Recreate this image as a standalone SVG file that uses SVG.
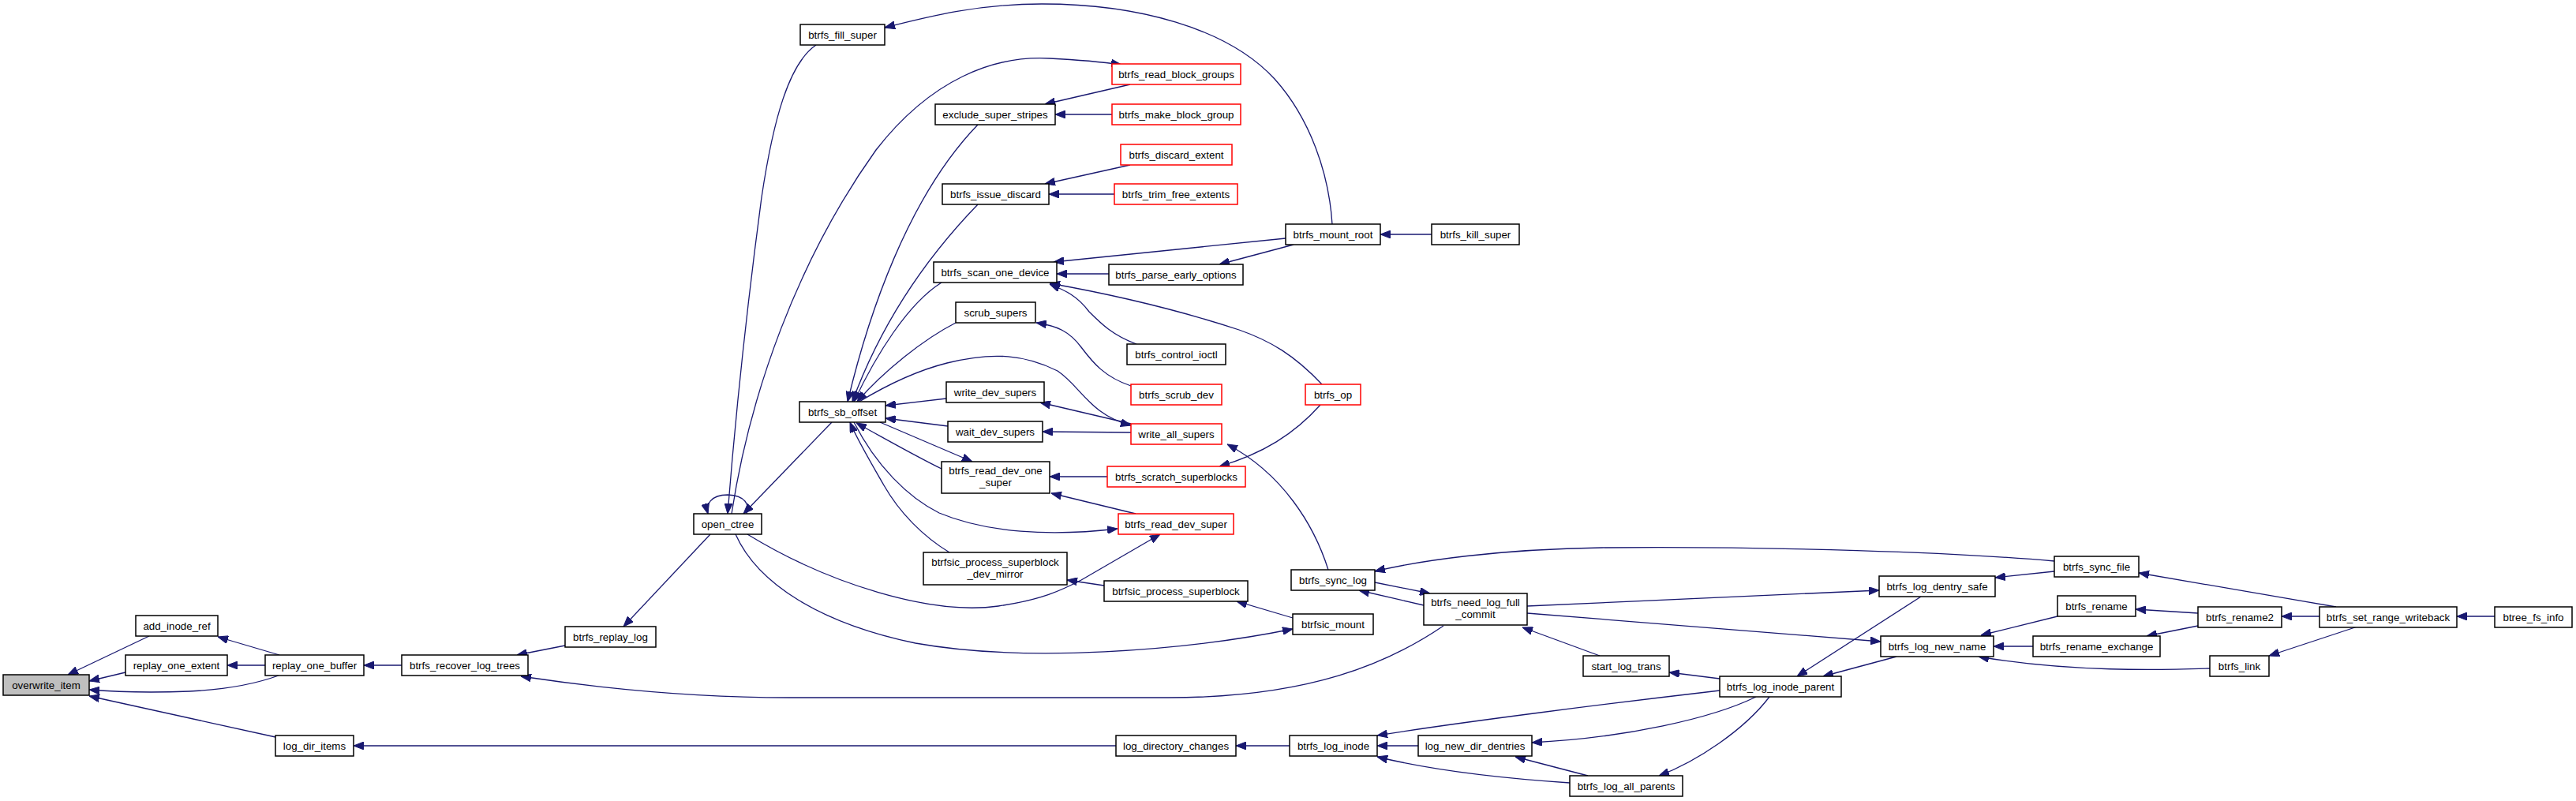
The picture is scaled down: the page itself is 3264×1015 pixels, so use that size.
<svg xmlns="http://www.w3.org/2000/svg" width="3264" height="1015" viewBox="0 0 3264 1015">
<style>
.n rect{fill:#fff;stroke:#000;stroke-width:1.5}
.r rect{stroke:#f00}
.g rect{fill:#bfbfbf}
text{font-family:"Liberation Sans",Arial,Helvetica,sans-serif;font-size:13.33px;fill:#000;text-anchor:middle}
.e path{fill:none;stroke:#191970;stroke-width:1.3;marker-end:url(#a)}
</style>
<defs>
<marker id="a" markerWidth="13" markerHeight="10" refX="13" refY="5" orient="auto" markerUnits="userSpaceOnUse">
<path d="M0,0 L13,5 L0,10 z" fill="#191970" stroke="#191970" stroke-width="1"/>
</marker>
</defs>
<rect width="3264" height="1015" fill="#fff"/>
<g class="e" id="edges">
<path d="M189,806 L86,855"/>
<path d="M159,852 L113,863"/>
<path d="M353,856 C320,868 280,874 240,876 C190,878 150,877 113,874"/>
<path d="M354,830 L276,807"/>
<path d="M336,843 L288,843"/>
<path d="M349,934 L113,882"/>
<path d="M509,843 L461,843"/>
<path d="M716,818 L655,830"/>
<path d="M900,677 L790,794"/>
<path d="M1829,793 C1760,840 1660,884 1480,884 L1000,884 C880,884 760,872 660,857"/>
<path d="M1414,945 L448,945"/>
<path d="M1634,945 L1566,945"/>
<path d="M1797,945 L1745,945"/>
<path d="M2012,983 L1920,959"/>
<path d="M1989,992 C1900,986 1810,975 1745,959"/>
<path d="M2179,875 C2050,890 1850,915 1745,932"/>
<path d="M2225,883 C2170,910 2060,935 1941,941"/>
<path d="M2242,883 C2210,925 2150,965 2102,983"/>
<path d="M2179,860 L2115,852"/>
<path d="M2027,831 L1929,795"/>
<path d="M2434,756 L2277,857"/>
<path d="M2403,832 L2310,857"/>
<path d="M1935,768 L2381,748"/>
<path d="M1935,777 L2383,813"/>
<path d="M1742,738 L1812,752"/>
<path d="M1804,767 L1722,748"/>
<path d="M2603,711 C2480,700 2250,692 2030,694 C1900,696 1800,710 1742,724"/>
<path d="M2603,724 L2528,732"/>
<path d="M2960,769 L2710,726"/>
<path d="M2607,781 L2510,805"/>
<path d="M2785,777 L2706,772"/>
<path d="M2785,793 L2720,806"/>
<path d="M2576,819 L2526,819"/>
<path d="M2939,781 L2891,781"/>
<path d="M3161,781 L3113,781"/>
<path d="M2987,794 L2875,831"/>
<path d="M2800,847 C2740,849 2620,852 2507,832"/>
<path d="M1638,783 L1567,762"/>
<path d="M932,677 C960,740 1040,790 1160,815 C1300,840 1500,825 1638,797"/>
<path d="M947,677 C1050,740 1180,780 1265,768 C1320,760 1345,748 1370,735 L1470,677"/>
<path d="M1399,742 L1352,735"/>
<path d="M1203,700 C1170,680 1140,650 1120,615 C1100,580 1085,555 1077,535"/>
<path d="M1082,535 C1110,590 1150,630 1190,650 C1250,675 1330,680 1416,670"/>
<path d="M1193,594 C1160,578 1120,555 1085,536"/>
<path d="M1115,535 L1232,585"/>
<path d="M1403,604 L1330,604"/>
<path d="M1439,651 L1332,625"/>
<path d="M1433,548 L1321,547"/>
<path d="M1201,540 L1122,530"/>
<path d="M1199,505 L1122,514"/>
<path d="M1433,537 L1318,510"/>
<path d="M1087,510 C1120,490 1160,470 1200,460 C1260,445 1300,450 1340,470 C1370,490 1380,525 1433,539"/>
<path d="M1683,722 C1665,665 1625,600 1555,563"/>
<path d="M1673,513 C1640,550 1600,575 1545,591"/>
<path d="M1675,487 C1640,450 1610,432 1570,418 C1500,395 1420,375 1330,359"/>
<path d="M1440,436 C1410,425 1395,410 1380,395 C1365,375 1350,368 1330,360"/>
<path d="M1405,347 L1339,347"/>
<path d="M1629,302 L1335,332"/>
<path d="M1639,310 L1545,335"/>
<path d="M1814,297 L1749,297"/>
<path d="M1688,284 C1684,220 1660,150 1615,100 C1555,35 1440,5 1320,5 C1240,5 1180,20 1121,35"/>
<path d="M1433,489 C1400,478 1385,460 1370,440 C1355,420 1340,413 1313,409"/>
<path d="M1211,409 C1170,430 1120,470 1086,509"/>
<path d="M1193,358 C1150,385 1110,450 1082,509"/>
<path d="M1239,259 C1180,320 1120,400 1080,509"/>
<path d="M1239,158 C1150,250 1100,400 1074,509"/>
<path d="M1432,107 L1324,132"/>
<path d="M1409,145 L1337,145"/>
<path d="M1432,209 L1324,233"/>
<path d="M1412,246 L1329,246"/>
<path d="M927,651 C950,500 1010,330 1110,190 C1180,100 1260,70 1330,74 C1370,76 1400,79 1421,82"/>
<path d="M1034,57 C1000,80 980,150 965,250 C945,400 930,550 922,651"/>
<path d="M1054,535 L942,651"/>
<path d="M946,651 C950,640 945,628 922,627 C900,627 894,640 897,651"/>
</g>
<g id="overwrite_item" class="n g"><rect x="4" y="855" width="109" height="26"/><text x="58.5" y="872.5">overwrite_item</text></g>
<g id="add_inode_ref" class="n"><rect x="172" y="780" width="104" height="26"/><text x="224" y="797.5">add_inode_ref</text></g>
<g id="replay_one_extent" class="n"><rect x="159" y="830" width="129" height="26"/><text x="223.5" y="847.5">replay_one_extent</text></g>
<g id="replay_one_buffer" class="n"><rect x="336" y="830" width="125" height="26"/><text x="398.5" y="847.5">replay_one_buffer</text></g>
<g id="log_dir_items" class="n"><rect x="349" y="932" width="99" height="26"/><text x="398.5" y="949.5">log_dir_items</text></g>
<g id="btrfs_recover_log_trees" class="n"><rect x="509" y="830" width="160" height="26"/><text x="589" y="847.5">btrfs_recover_log_trees</text></g>
<g id="btrfs_replay_log" class="n"><rect x="716" y="794" width="115" height="26"/><text x="773.5" y="811.5">btrfs_replay_log</text></g>
<g id="open_ctree" class="n"><rect x="879" y="651" width="86" height="26"/><text x="922" y="668.5">open_ctree</text></g>
<g id="btrfs_fill_super" class="n"><rect x="1014" y="31" width="107" height="26"/><text x="1067.5" y="48.5">btrfs_fill_super</text></g>
<g id="btrfs_sb_offset" class="n"><rect x="1013" y="509" width="109" height="26"/><text x="1067.5" y="526.5">btrfs_sb_offset</text></g>
<g id="exclude_super_stripes" class="n"><rect x="1185" y="132" width="152" height="26"/><text x="1261" y="149.5">exclude_super_stripes</text></g>
<g id="btrfs_issue_discard" class="n"><rect x="1194" y="233" width="135" height="26"/><text x="1261.5" y="250.5">btrfs_issue_discard</text></g>
<g id="btrfs_scan_one_device" class="n"><rect x="1183" y="332" width="156" height="26"/><text x="1261" y="349.5">btrfs_scan_one_device</text></g>
<g id="scrub_supers" class="n"><rect x="1211" y="383" width="101" height="26"/><text x="1261.5" y="400.5">scrub_supers</text></g>
<g id="write_dev_supers" class="n"><rect x="1199" y="484" width="124" height="26"/><text x="1261" y="501.5">write_dev_supers</text></g>
<g id="wait_dev_supers" class="n"><rect x="1201" y="534" width="120" height="26"/><text x="1261" y="551.5">wait_dev_supers</text></g>
<g id="btrfs_read_dev_one_super" class="n"><rect x="1193" y="585" width="137" height="40"/><text x="1261.5" y="601">btrfs_read_dev_one</text><text x="1261.5" y="616">_super</text></g>
<g id="btrfsic_process_superblock_dev_mirror" class="n"><rect x="1170" y="700" width="182" height="41"/><text x="1261" y="716.5">btrfsic_process_superblock</text><text x="1261" y="731.5">_dev_mirror</text></g>
<g id="btrfs_read_block_groups" class="n r"><rect x="1409" y="81" width="163" height="26"/><text x="1490.5" y="98.5">btrfs_read_block_groups</text></g>
<g id="btrfs_make_block_group" class="n r"><rect x="1409" y="132" width="163" height="26"/><text x="1490.5" y="149.5">btrfs_make_block_group</text></g>
<g id="btrfs_discard_extent" class="n r"><rect x="1420" y="183" width="141" height="26"/><text x="1490.5" y="200.5">btrfs_discard_extent</text></g>
<g id="btrfs_trim_free_extents" class="n r"><rect x="1412" y="233" width="156" height="26"/><text x="1490" y="250.5">btrfs_trim_free_extents</text></g>
<g id="btrfs_parse_early_options" class="n"><rect x="1405" y="335" width="170" height="26"/><text x="1490" y="352.5">btrfs_parse_early_options</text></g>
<g id="btrfs_control_ioctl" class="n"><rect x="1428" y="436" width="125" height="26"/><text x="1490.5" y="453.5">btrfs_control_ioctl</text></g>
<g id="btrfs_scrub_dev" class="n r"><rect x="1433" y="487" width="115" height="26"/><text x="1490.5" y="504.5">btrfs_scrub_dev</text></g>
<g id="write_all_supers" class="n r"><rect x="1433" y="537" width="115" height="26"/><text x="1490.5" y="554.5">write_all_supers</text></g>
<g id="btrfs_scratch_superblocks" class="n r"><rect x="1403" y="591" width="175" height="26"/><text x="1490.5" y="608.5">btrfs_scratch_superblocks</text></g>
<g id="btrfs_read_dev_super" class="n r"><rect x="1417" y="651" width="146" height="26"/><text x="1490" y="668.5">btrfs_read_dev_super</text></g>
<g id="btrfsic_process_superblock" class="n"><rect x="1399" y="736" width="182" height="26"/><text x="1490" y="753.5">btrfsic_process_superblock</text></g>
<g id="log_directory_changes" class="n"><rect x="1414" y="932" width="152" height="26"/><text x="1490" y="949.5">log_directory_changes</text></g>
<g id="btrfs_mount_root" class="n"><rect x="1629" y="284" width="120" height="26"/><text x="1689" y="301.5">btrfs_mount_root</text></g>
<g id="btrfs_op" class="n r"><rect x="1654" y="487" width="70" height="26"/><text x="1689" y="504.5">btrfs_op</text></g>
<g id="btrfs_sync_log" class="n"><rect x="1636" y="722" width="106" height="26"/><text x="1689" y="739.5">btrfs_sync_log</text></g>
<g id="btrfsic_mount" class="n"><rect x="1638" y="778" width="102" height="26"/><text x="1689" y="795.5">btrfsic_mount</text></g>
<g id="btrfs_log_inode" class="n"><rect x="1634" y="932" width="111" height="26"/><text x="1689.5" y="949.5">btrfs_log_inode</text></g>
<g id="btrfs_kill_super" class="n"><rect x="1814" y="284" width="111" height="26"/><text x="1869.5" y="301.5">btrfs_kill_super</text></g>
<g id="btrfs_need_log_full_commit" class="n"><rect x="1804" y="752" width="131" height="40"/><text x="1869.5" y="768">btrfs_need_log_full</text><text x="1869.5" y="783">_commit</text></g>
<g id="log_new_dir_dentries" class="n"><rect x="1797" y="932" width="144" height="26"/><text x="1869" y="949.5">log_new_dir_dentries</text></g>
<g id="start_log_trans" class="n"><rect x="2006" y="831" width="109" height="26"/><text x="2060.5" y="848.5">start_log_trans</text></g>
<g id="btrfs_log_all_parents" class="n"><rect x="1989" y="983" width="143" height="26"/><text x="2060.5" y="1000.5">btrfs_log_all_parents</text></g>
<g id="btrfs_log_inode_parent" class="n"><rect x="2179" y="857" width="154" height="26"/><text x="2256" y="874.5">btrfs_log_inode_parent</text></g>
<g id="btrfs_log_dentry_safe" class="n"><rect x="2381" y="730" width="147" height="26"/><text x="2454.5" y="747.5">btrfs_log_dentry_safe</text></g>
<g id="btrfs_log_new_name" class="n"><rect x="2383" y="806" width="143" height="26"/><text x="2454.5" y="823.5">btrfs_log_new_name</text></g>
<g id="btrfs_sync_file" class="n"><rect x="2603" y="705" width="107" height="26"/><text x="2656.5" y="722.5">btrfs_sync_file</text></g>
<g id="btrfs_rename" class="n"><rect x="2607" y="755" width="99" height="26"/><text x="2656.5" y="772.5">btrfs_rename</text></g>
<g id="btrfs_rename_exchange" class="n"><rect x="2576" y="806" width="161" height="26"/><text x="2656.5" y="823.5">btrfs_rename_exchange</text></g>
<g id="btrfs_rename2" class="n"><rect x="2785" y="769" width="106" height="26"/><text x="2838" y="786.5">btrfs_rename2</text></g>
<g id="btrfs_link" class="n"><rect x="2800" y="831" width="75" height="26"/><text x="2837.5" y="848.5">btrfs_link</text></g>
<g id="btrfs_set_range_writeback" class="n"><rect x="2939" y="769" width="174" height="26"/><text x="3026" y="786.5">btrfs_set_range_writeback</text></g>
<g id="btree_fs_info" class="n"><rect x="3161" y="769" width="98" height="26"/><text x="3210" y="786.5">btree_fs_info</text></g>
</svg>
